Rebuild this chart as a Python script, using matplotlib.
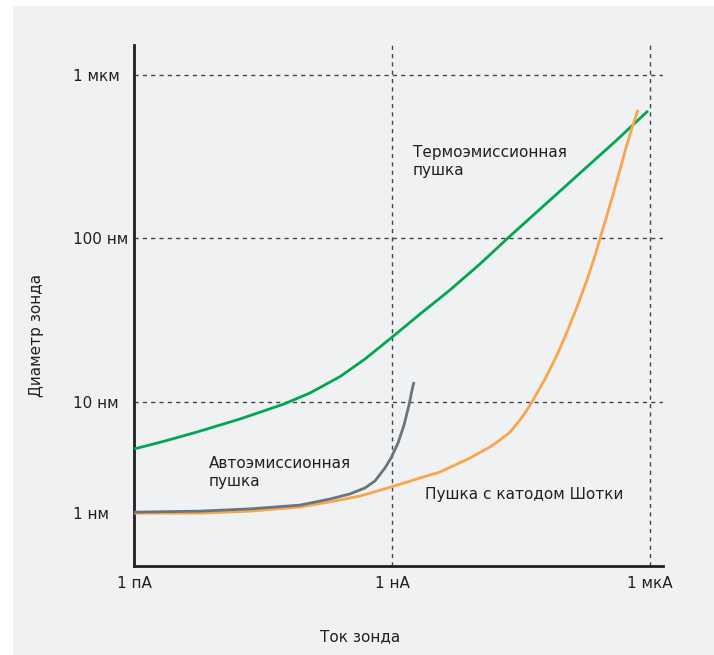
import numpy as np
import matplotlib
matplotlib.use("Agg")
import matplotlib.pyplot as plt
from matplotlib.patches import Rectangle
from matplotlib.ticker import NullLocator

# =========================
# DATA (current in pA, probe diameter in nm)
# =========================
thermo_current = [1, 2.29, 5.40, 17.1, 54.1, 111.3, 249, 485, 973, 2120,
                  4720, 10550, 22300, 60100, 153500, 392000, 948000]
thermo_diam = [5.16, 5.77, 6.55, 7.87, 9.67, 11.35, 14.3, 18.3, 24.6,
               34.5, 48.4, 69.8, 100.7, 161, 251, 391, 603]

schottky_current = [1, 5.85, 22.4, 85.2, 190, 425, 973, 2120, 3610, 8070,
                    13800, 18000, 23600, 30800, 37100, 42400, 60100, 83000,
                    108400, 141600, 185000, 229000, 276500, 342700, 424500,
                    526000, 618000, 725000]
schottky_diam = [2.09, 2.09, 2.15, 2.28, 2.45, 2.66, 3.02, 3.43, 3.73, 4.54,
                 5.31, 5.86, 6.55, 7.76, 8.93, 10.0, 13.8, 19.4, 26.8, 38.1,
                 55.7, 78.2, 109.6, 160, 238, 358, 475, 611]

field_current = [1, 5.85, 22.4, 85.2, 190, 325, 485, 634, 829, 973, 1175,
                 1380, 1577, 1710, 1800]
field_diam = [2.12, 2.15, 2.22, 2.34, 2.55, 2.74, 2.98, 3.29, 3.95, 4.54,
              5.61, 7.23, 9.59, 11.84, 13.25]

x_ticks = [1, 1e3, 1e6]
x_labels = ["1 пА", "1 нА", "1 мкА"]
y_ticks = [2.09, 10, 100, 1000]
y_labels = ["1 нм", "10 нм", "100 нм", "1 мкм"]
grid_x = [1e3, 1e6]
grid_y = [10, 100, 1000]

# =========================
# STYLE
# =========================
plt.rcParams["font.family"] = ["DejaVu Sans"]
TEXT = "#231f20"
BG = "#f0f1f3"
GREEN = "#00a651"
ORANGE = "#f9a54a"
GRAY = "#66757f"
FS = 11

fig = plt.figure(figsize=(7.14, 6.55), dpi=100)
fig.patch.set_facecolor("white")
fig.patches.append(Rectangle((13 / 714, 0), 1, 649 / 655, transform=fig.transFigure,
                             facecolor=BG, edgecolor="none", zorder=-10))

ax = fig.add_axes([134 / 714, 89 / 655, 529 / 714, 521 / 655])
ax.set_facecolor("none")
ax.set_xscale("log")
ax.set_yscale("log")
ax.set_xlim(1, 10 ** (529 / 86))
ax.set_ylim(0.993, 1524)

# grid
for gx in grid_x:
    ax.axvline(gx, color="#444444", lw=1.0, dashes=(3, 3), zorder=1)
for gy in grid_y:
    ax.axhline(gy, color="#444444", lw=1.0, dashes=(3, 3), zorder=1)

# curves
ax.plot(thermo_current, thermo_diam, color=GREEN, lw=2.0, zorder=3,
        solid_capstyle="butt", solid_joinstyle="round")
ax.plot(schottky_current, schottky_diam, color=ORANGE, lw=2.0, zorder=3,
        solid_capstyle="butt", solid_joinstyle="round")
ax.plot(field_current, field_diam, color=GRAY, lw=2.0, zorder=4,
        solid_capstyle="butt", solid_joinstyle="round")

# axes
for side in ["top", "right"]:
    ax.spines[side].set_visible(False)
for side in ["left", "bottom"]:
    ax.spines[side].set_color(TEXT)
    ax.spines[side].set_linewidth(2.0)

ax.xaxis.set_minor_locator(NullLocator())
ax.yaxis.set_minor_locator(NullLocator())
ax.set_xticks(x_ticks)
ax.set_xticklabels(x_labels)
ax.set_yticks(y_ticks)
ax.set_yticklabels(y_labels, ha="left")
ax.tick_params(axis="x", length=0, pad=7, labelsize=FS, labelcolor=TEXT)
ax.tick_params(axis="y", length=0, pad=44, labelsize=FS, labelcolor=TEXT)

fig.text(36 / 714, 1 - 335 / 655, "Диаметр зонда", rotation=90, ha="center",
         va="center", fontsize=FS, color=TEXT)
fig.text(360 / 714, 1 - 637 / 655, "Ток зонда", ha="center", va="center",
         fontsize=FS, color=TEXT)

# annotations
ax.text(0.527, 0.808, "Термоэмиссионная\nпушка", transform=ax.transAxes,
        ha="left", va="top", fontsize=FS, color=TEXT, linespacing=1.25)
ax.text(0.142, 0.212, "Автоэмиссионная\nпушка", transform=ax.transAxes,
        ha="left", va="top", fontsize=FS, color=TEXT, linespacing=1.25)
ax.text(0.55, 0.138, "Пушка с катодом Шотки", transform=ax.transAxes,
        ha="left", va="center", fontsize=FS, color=TEXT)

fig.savefig("out.png", dpi=100, facecolor=fig.get_facecolor())
